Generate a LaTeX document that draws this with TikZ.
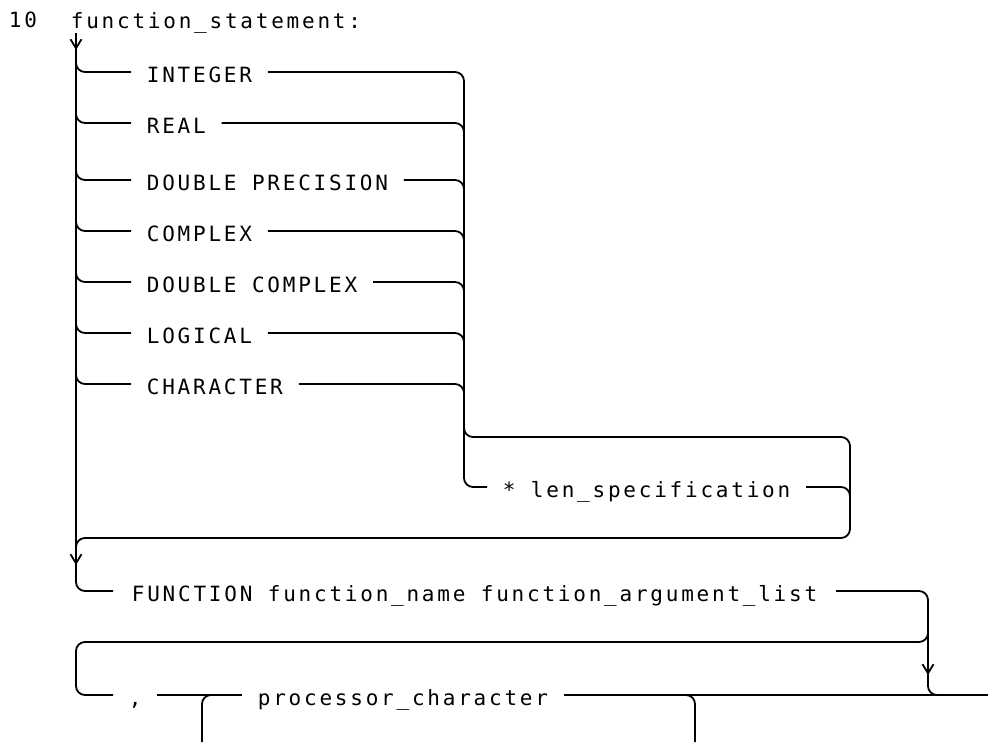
\documentclass[tikz,border=0pt]{standalone}
\usepackage{fontspec}
\usetikzlibrary{arrows.meta,calc}
\newfontfamily\plotfont[LetterSpace=13.2]{DejaVu Sans Mono}
\begin{document}
\begin{tikzpicture}[x=1pt,y=-1pt,line width=1.8pt,
  rr/.style={rounded corners=9pt},
  txt/.style={inner sep=0pt,font=\plotfont\fontsize{21}{25}\selectfont},
  lbl/.style={txt,anchor=west,inner xsep=15pt,text height=20pt,text depth=0pt},
  arr/.style={-{Straight Barb[length=9pt,width=11pt]}}]
\useasboundingbox (0,0) rectangle (988,742);
% titles
\node[txt,anchor=base west] (num) at (8,27) {10};
\node[txt,anchor=base west] (title) at (70,28) {function\_statement:};
% coordinates
\coordinate (top) at (76,33);
\coordinate (rtop) at (464,0);
\coordinate (exit) at (988,695);
% labels
\node[lbl] (int) at (131,72) {INTEGER};
\node[lbl] (real) at (131,123) {REAL};
\node[lbl] (dp) at (131,180) {DOUBLE PRECISION};
\node[lbl] (cx) at (131,231) {COMPLEX};
\node[lbl] (dc) at (131,282) {DOUBLE COMPLEX};
\node[lbl] (lg) at (131,333) {LOGICAL};
\node[lbl] (ch) at (131,384) {CHARACTER};
\node[lbl] (len) at (487,487) {* len\_specification};
\node[lbl,inner xsep=18pt] (fn) at (113,591) {FUNCTION function\_name function\_argument\_list};
\node[lbl] (comma) at (113,695) {,};
\node[lbl] (pc) at (242,695) {processor\_character};
% left rail
\draw[rr] (top) |- (fn.west);
\draw[arr] (top) -- (76,50);
\foreach \n in {int,real,dp,cx,dc,lg,ch}
  \draw[rr] ($(\n.west)+(-55,-14)$) |- (\n.west);
% right rail
\draw[rr] (int.east) -| (464,487) -- (len.west);
\foreach \n in {real,dp,cx,dc,lg,ch}
  \draw[rr] (\n.east) -| ($(\n.east -| rtop)+(0,14)$);
% length bracket
\draw[rr] (464,423) |- (850,437) -- (850,538) -- (76,538) -- (76,552);
\draw[rr] (len.east) -| (850,502);
\draw[arr] (76,548) -- (76,565);
% function row
\draw[rr] (fn.east) -| (928,695) -- (exit);
\draw[arr] (928,655) -- (928,675);
% loop
\draw[rr] (928,628) -- (928,642) -- (76,642) -- (76,695) -- (comma.west);
\draw (comma.east) -- (pc.west);
\draw (pc.east) -- (exit);
\draw[rr] (218,695) -- (202,695) -- (202,742);
\draw[rr] (679,695) -- (695,695) -- (695,742);
\end{tikzpicture}
\end{document}
